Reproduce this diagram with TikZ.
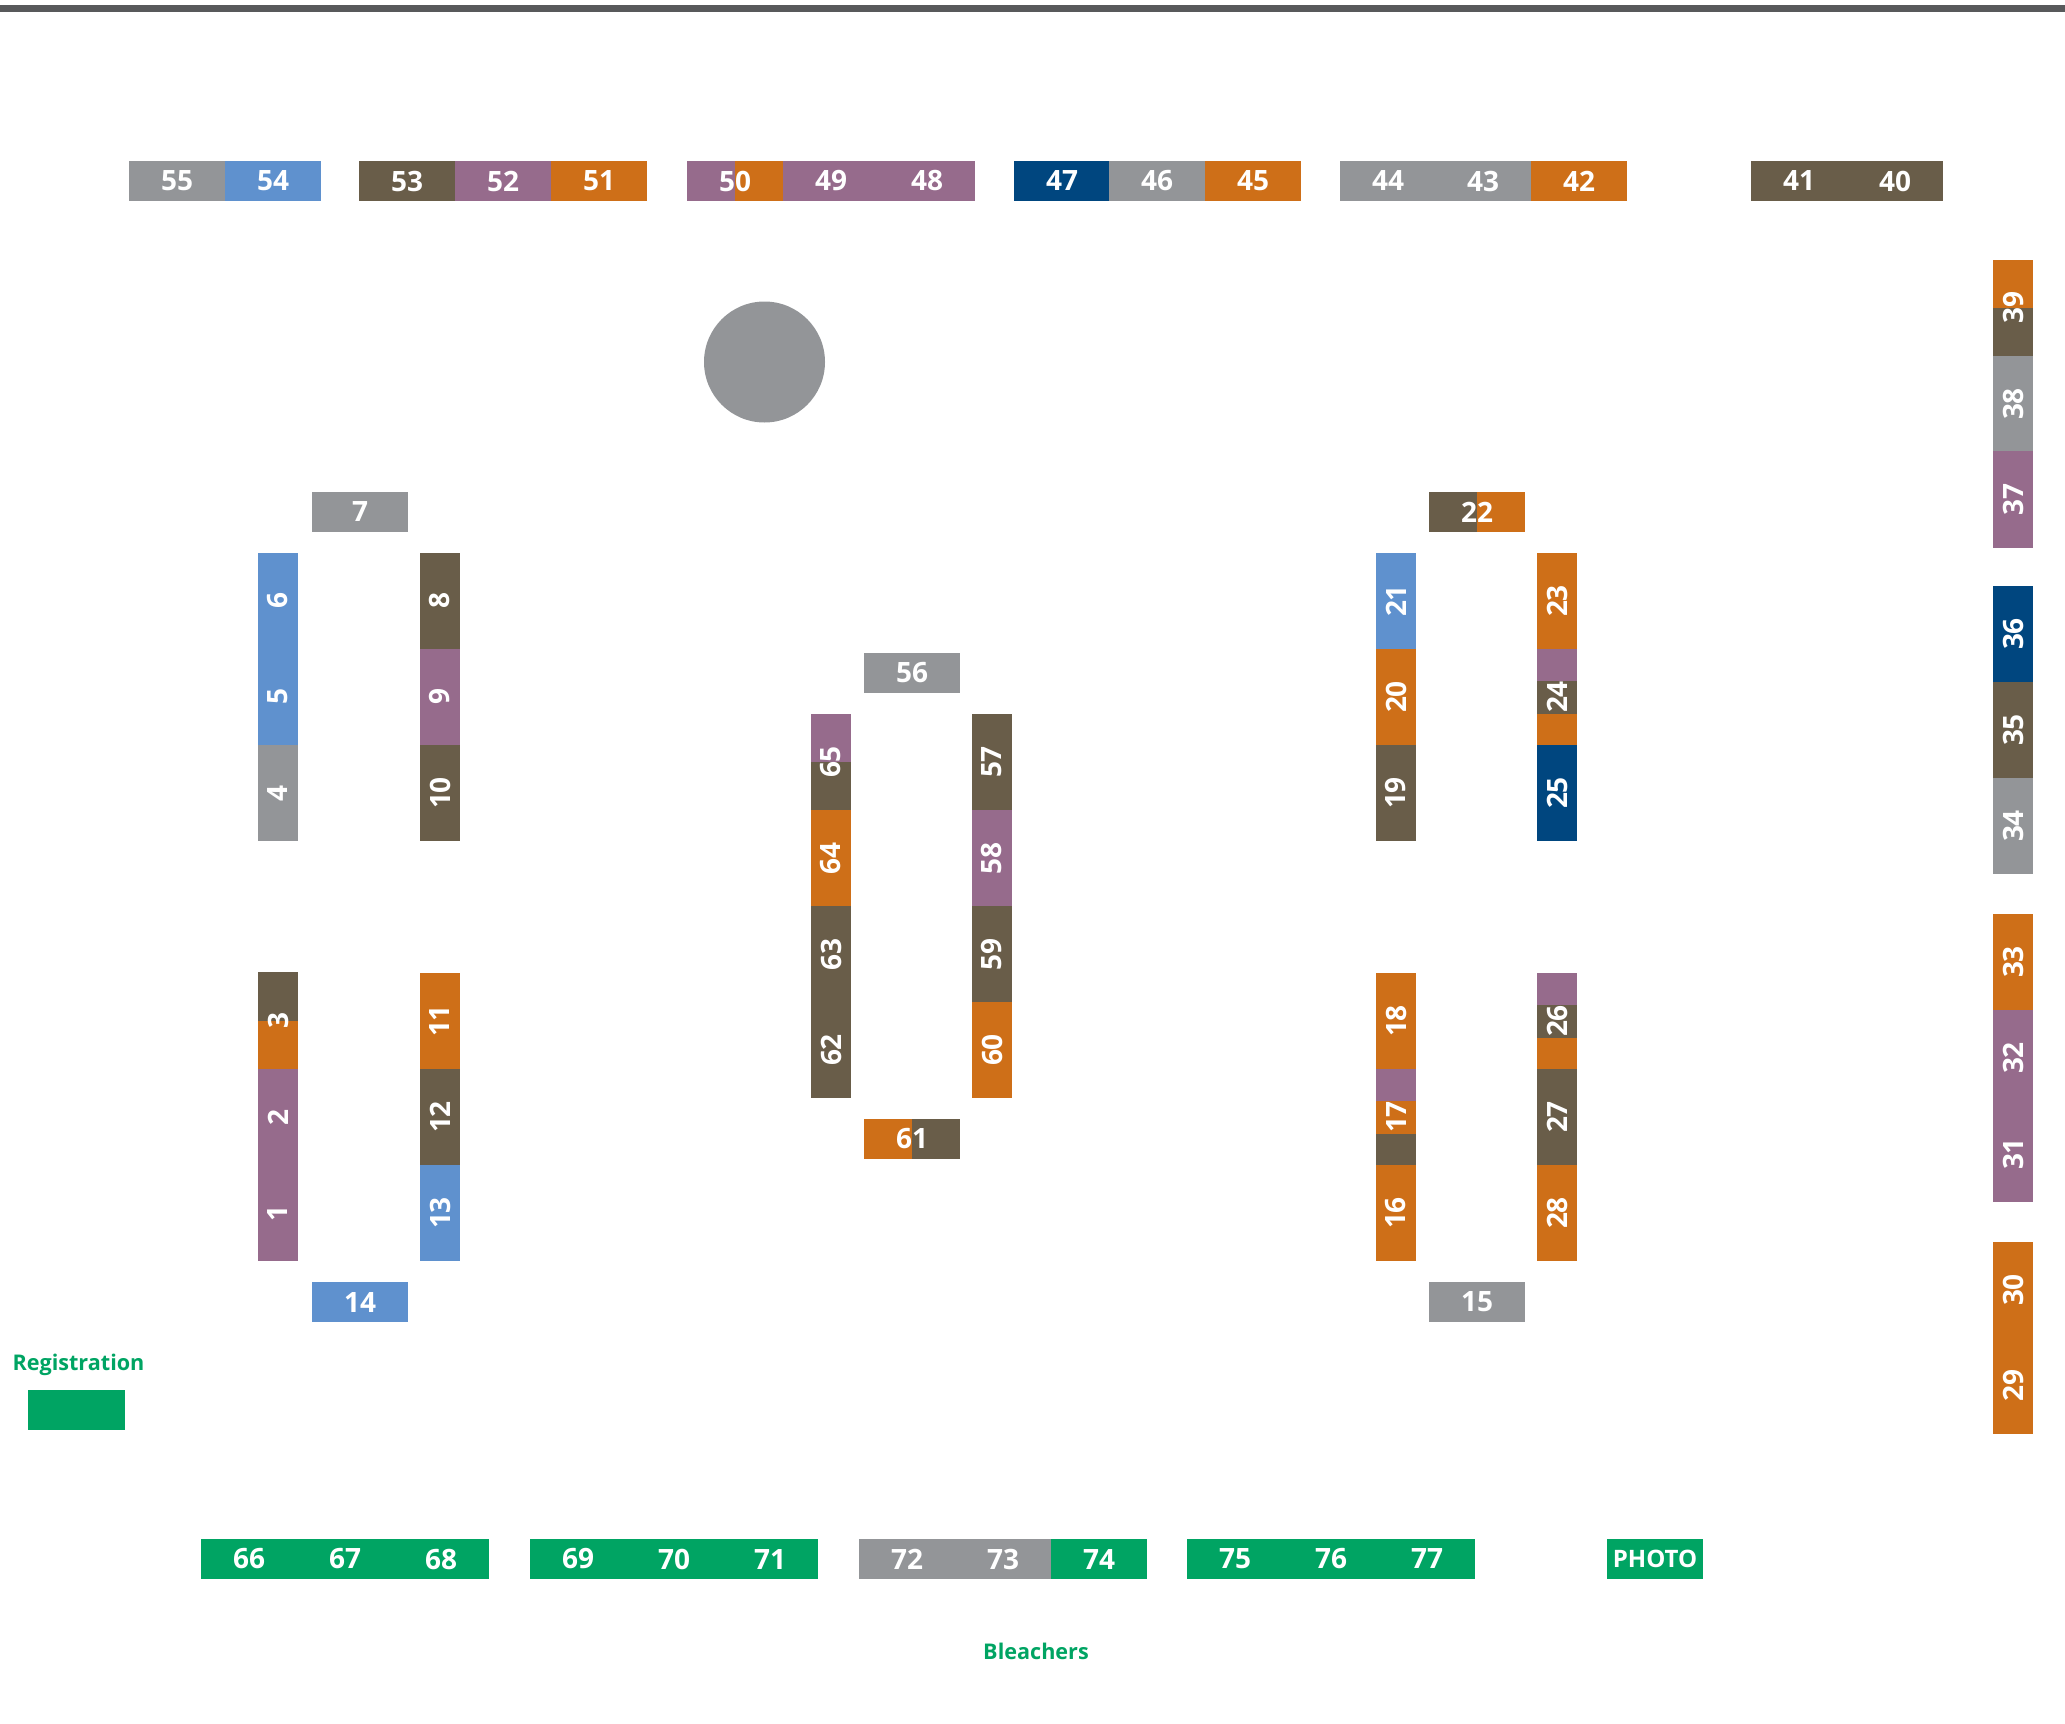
\documentclass[tikz,border=0pt]{standalone}
\usepackage{fontspec}
\setsansfont{Open Sans}
\definecolor{boothgray}{HTML}{939598}
\definecolor{boothblue}{HTML}{5F91CE}
\definecolor{boothbrown}{HTML}{695D49}
\definecolor{boothpurple}{HTML}{966B8C}
\definecolor{boothorange}{HTML}{CE6F18}
\definecolor{boothnavy}{HTML}{00467F}
\definecolor{boothgreen}{HTML}{00A463}
\definecolor{ruledark}{HTML}{58595B}
\begin{document}
\begin{tikzpicture}[x=1pt, y=-1pt,
    cell/.style={text=white, inner sep=0pt, font=\sffamily\bfseries\fontsize{28}{28}\selectfont},
    hcell/.style={cell, minimum width=96.2pt, minimum height=40pt},
    vcell/.style={cell, rotate=90, minimum width=96.2pt, minimum height=40pt},
    greenlab/.style={text=boothgreen, inner sep=0pt, font=\sffamily\bfseries\fontsize{21.6}{22}\selectfont}]
  \useasboundingbox (0,0) rectangle (2065,1724);
  % Top rule
  \fill[ruledark] (0,5) rectangle (2065,12);
  % Pole
  \node[circle, fill=boothgray, inner sep=0pt, minimum size=121pt] (pole) at (764.5,362) {};
  % Two and three colour booths
  \fill[boothpurple] (687,161) rectangle (735,201);
  \fill[boothorange] (735,161) rectangle (783,201);
  \fill[boothbrown] (1429,492) rectangle (1477,532);
  \fill[boothorange] (1477,492) rectangle (1525,532);
  \fill[boothorange] (864,1119) rectangle (912,1159);
  \fill[boothbrown] (912,1119) rectangle (960,1159);
  \fill[boothbrown] (258,972) rectangle (298,1021);
  \fill[boothorange] (258,1021) rectangle (298,1069);
  \fill[boothpurple] (811,714) rectangle (851,762);
  \fill[boothbrown] (811,762) rectangle (851,810.5);
  \fill[boothorange] (1993,260) rectangle (2033,308);
  \fill[boothbrown] (1993,308) rectangle (2033,356);
  \fill[boothpurple] (1376,1069) rectangle (1416,1101);
  \fill[boothorange] (1376,1101) rectangle (1416,1134);
  \fill[boothbrown] (1376,1134) rectangle (1416,1165);
  \fill[boothpurple] (1537,649) rectangle (1577,681);
  \fill[boothbrown] (1537,681) rectangle (1577,714);
  \fill[boothorange] (1537,714) rectangle (1577,745);
  \fill[boothpurple] (1537,973) rectangle (1577,1005);
  \fill[boothbrown] (1537,1005) rectangle (1577,1038);
  \fill[boothorange] (1537,1038) rectangle (1577,1069);
  \node[hcell] (s50) at (735,181) {50};
  \node[hcell] (s22) at (1477,512) {22};
  \node[hcell] (s61) at (912,1139) {61};
  \node[vcell] (s3) at (278,1020.5) {3};
  \node[vcell] (s65) at (831,762) {65};
  \node[vcell] (s39) at (2013,308) {39};
  \node[vcell] (s17) at (1396,1117) {17};
  \node[vcell] (s24) at (1557,697) {24};
  \node[vcell] (s26) at (1557,1021) {26};
  % Top row
  \foreach \n/\x/\c in {55/177/boothgray, 54/273/boothblue, 53/407/boothbrown, 52/503/boothpurple,
      51/599/boothorange, 49/831/boothpurple, 48/927/boothpurple, 47/1062/boothnavy, 46/1157/boothgray,
      45/1253/boothorange, 44/1388/boothgray, 43/1483/boothgray, 42/1579/boothorange,
      41/1799/boothbrown, 40/1895/boothbrown} {
    \node[hcell, fill=\c] (s\n) at (\x,181) {\n};
  }
  % Bottom row
  \foreach \n/\x/\c in {66/249/boothgreen, 67/345/boothgreen, 68/441/boothgreen, 69/578/boothgreen,
      70/674/boothgreen, 71/770/boothgreen, 72/907/boothgray, 73/1003/boothgray, 74/1099/boothgreen,
      75/1235/boothgreen, 76/1331/boothgreen, 77/1427/boothgreen} {
    \node[hcell, fill=\c] (s\n) at (\x,1559) {\n};
  }
  \node[hcell, fill=boothgreen, font=\sffamily\bfseries\fontsize{24}{24}\selectfont] (photo) at (1655,1559) {PHOTO};
  % Single horizontal booths
  \foreach \n/\x/\y/\c in {7/360/512/boothgray, 14/360/1302/boothblue, 15/1477/1302/boothgray,
      56/912/673/boothgray} {
    \node[hcell, fill=\c] (s\n) at (\x,\y) {\n};
  }
  % Vertical booths
  \foreach \n/\x/\y/\c in {6/278/601/boothblue, 5/278/697/boothblue, 4/278/793/boothgray,
      2/278/1117/boothpurple, 1/278/1213/boothpurple,
      8/440/601/boothbrown, 9/440/697/boothpurple, 10/440/793/boothbrown,
      11/440/1021/boothorange, 12/440/1117/boothbrown, 13/440/1213/boothblue,
      64/831/858.5/boothorange, 63/831/954.5/boothbrown, 62/831/1050/boothbrown,
      57/992/762/boothbrown, 58/992/858.5/boothpurple, 59/992/954.5/boothbrown, 60/992/1050/boothorange,
      21/1396/601/boothblue, 20/1396/697/boothorange, 19/1396/793/boothbrown,
      18/1396/1021/boothorange, 16/1396/1213/boothorange,
      23/1557/601/boothorange, 25/1557/793/boothnavy,
      27/1557/1117/boothbrown, 28/1557/1213/boothorange,
      38/2013/404/boothgray, 37/2013/499.5/boothpurple, 36/2013/634/boothnavy,
      35/2013/730/boothbrown, 34/2013/826/boothgray, 33/2013/962/boothorange,
      32/2013/1058/boothpurple, 31/2013/1154/boothpurple, 30/2013/1290/boothorange,
      29/2013/1385.5/boothorange} {
    \node[vcell, fill=\c] (s\n) at (\x,\y) {\n};
  }
  % Registration and bleachers
  \node[greenlab] (reglab) at (78.5,1365) {Registration};
  \node[fill=boothgreen, inner sep=0pt, minimum width=97pt, minimum height=40pt] (regdesk) at (76.5,1410) {};
  \node[greenlab] (bleachers) at (1036,1651) {Bleachers};
\end{tikzpicture}
\end{document}
